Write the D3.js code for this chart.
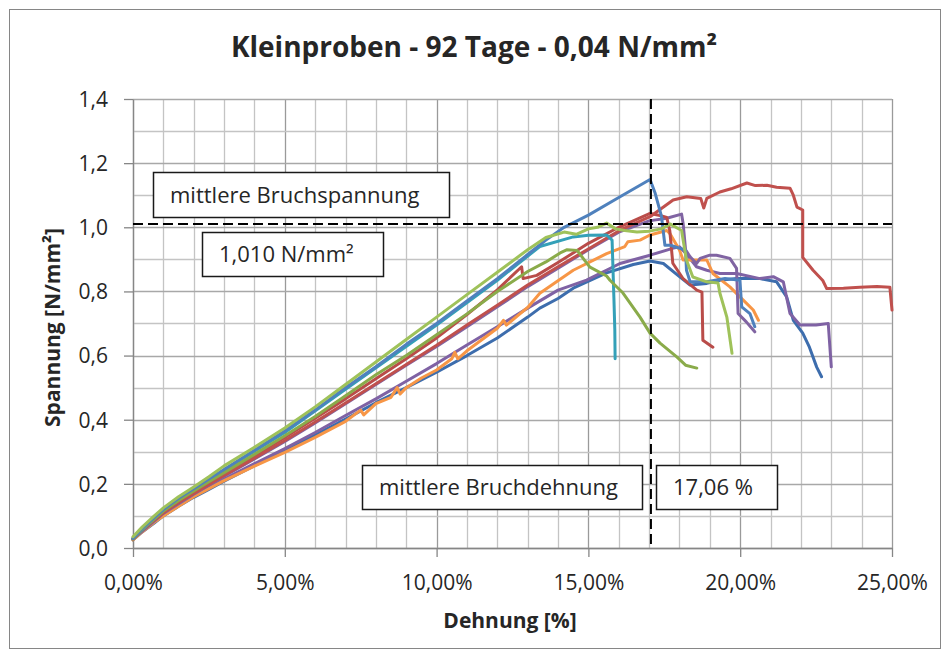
<!DOCTYPE html>
<html>
<head>
<meta charset="utf-8">
<script src="https://cdn.jsdelivr.net/npm/d3@7"></script>
<style>
	body { margin: 0; background: #fff; }
	text { font-family: "Open Sans", "Noto Sans", sans-serif; fill: #262626; }
	.axis path, .axis line { stroke: #868686; }
</style>
</head>
<body>
<div id="chart"></div>
<script>

////////////////////////////////////////////////////////////
///////////////////////// Data /////////////////////////////
////////////////////////////////////////////////////////////

//Each curve: [strain in %, stress in N/mm²]
var curveBlueB = [[0,0.025],[0.3,0.05],[0.7,0.078],[1,0.1],[1.5,0.13],[2,0.158],[2.5,0.183],[3,0.208],[4,0.257],[5,0.303],
	[6,0.352],[7,0.402],[8,0.453],[9,0.5],[10,0.548],[11,0.6],[12,0.655],[13,0.72],[13.4,0.748],[14,0.778],[14.5,0.81],
	[15.6,0.858],[16.48,0.884],[17.03,0.895],[17.47,0.887],[18.0,0.846],[18.35,0.82],[18.9,0.825],[19.33,0.835],[19.88,0.84],
	[20.65,0.84],[21.2,0.83],[21.53,0.783],[21.75,0.71],[22.06,0.67],[22.28,0.626],[22.52,0.564],[22.68,0.534]];

var curvePurpleB = [[0,0.027],[0.3,0.052],[0.7,0.083],[1,0.105],[2,0.163],[3,0.215],[4,0.263],[5,0.31],[6,0.36],[7,0.413],
	[8,0.465],[9,0.52],[10,0.575],[11,0.633],[12,0.69],[13,0.748],[14,0.804],[14.94,0.835],[16.04,0.887],[17.03,0.913],
	[17.8,0.935],[18.0,0.939],[18.2,0.92],[18.56,0.877],[18.9,0.866],[19.33,0.856],[19.88,0.856],[20.65,0.84],[21.09,0.846],
	[21.42,0.83],[21.64,0.731],[21.97,0.695],[22.5,0.695],[22.9,0.7],[23.0,0.565]];

var curveOrange = [[0,0.025],[0.3,0.05],[0.7,0.08],[1,0.1],[2,0.16],[3,0.21],[4,0.255],[5,0.298],[6,0.345],[7,0.395],
	[7.5,0.43],[7.6,0.415],[8,0.45],[8.5,0.47],[8.7,0.5],[8.8,0.48],[9,0.5],[9.5,0.53],[10,0.555],[10.5,0.59],[10.6,0.61],
	[10.7,0.59],[11,0.615],[12,0.685],[12.2,0.71],[12.3,0.695],[13,0.75],[13.4,0.794],[14.5,0.866],[15.6,0.918],[16.2,0.94],
	[16.3,0.955],[16.7,0.96],[17.03,0.976],[17.58,0.99],[17.68,0.981],[18.0,0.929],[18.12,0.898],[18.9,0.898],[19.1,0.856],
	[19.66,0.814],[20.1,0.773],[20.43,0.742],[20.6,0.71]];

var curvePurpleA = [[0,0.028],[1,0.108],[2,0.168],[3,0.224],[4,0.278],[5,0.332],[6,0.39],[7,0.45],[8,0.51],[9,0.57],
	[10,0.628],[11,0.69],[12,0.752],[13,0.815],[14,0.872],[15,0.93],[16,0.985],[17.0,1.02],[17.58,1.028],[18.07,1.041],
	[18.12,1.012],[18.2,0.93],[18.35,0.908],[18.56,0.887],[18.68,0.903],[19.0,0.913],[19.22,0.913],[19.66,0.903],
	[19.88,0.872],[19.93,0.731],[20.2,0.705],[20.48,0.674]];

var curveRedB = [[0,0.03],[0.3,0.057],[0.7,0.09],[1,0.112],[2,0.173],[3,0.23],[4,0.287],[5,0.345],[6,0.405],[7,0.465],
	[8,0.528],[9,0.59],[10,0.655],[11,0.728],[12,0.805],[12.8,0.877],[12.85,0.84],[13.3,0.85],[14,0.89],[15,0.95],[16,1.0],
	[17.03,1.043],[17.36,1.037],[17.58,1.031],[17.68,0.99],[17.78,0.888],[18.11,0.841],[18.57,0.804],[18.74,0.798],
	[18.77,0.648],[19.1,0.626]];

var curveRedA = [[0,0.028],[0.3,0.055],[0.7,0.087],[1,0.11],[1.5,0.142],[2,0.17],[2.5,0.198],[3,0.226],[4,0.28],[5,0.335],
	[6,0.393],[7,0.452],[8,0.512],[9,0.572],[10,0.632],[11,0.695],[12,0.757],[13,0.82],[14,0.877],[14.94,0.929],[16.04,0.991],
	[17.03,1.033],[17.79,1.085],[18.24,1.095],[18.7,1.09],[18.8,1.06],[18.9,1.09],[19.33,1.11],[19.7,1.12],[20.22,1.138],
	[20.5,1.13],[20.88,1.131],[21.2,1.125],[21.64,1.122],[21.75,1.1],[21.87,1.063],[22.06,1.054],[22.06,0.906],[22.4,0.866],
	[22.72,0.834],[22.85,0.809],[23.4,0.81],[23.94,0.813],[24.5,0.815],[24.93,0.813],[25.0,0.742]];

var curveTeal = [[0,0.03],[1,0.118],[2,0.183],[3,0.243],[5,0.36],[7,0.495],[10,0.695],[12,0.835],[13.4,0.94],[14.5,0.97],
	[15.0,0.975],[15.6,0.976],[15.78,0.96],[15.8,0.9],[15.84,0.78],[15.87,0.68],[15.88,0.59]];

var curveGreenB = [[0,0.028],[0.3,0.058],[0.7,0.09],[1,0.115],[1.5,0.148],[2,0.178],[2.5,0.207],[3,0.235],[4,0.292],[5,0.35],
	[6,0.41],[7,0.475],[8,0.54],[9,0.6],[10,0.665],[11,0.73],[12,0.8],[13,0.862],[13.6,0.892],[14.07,0.92],[14.3,0.93],
	[14.63,0.928],[14.82,0.904],[15.05,0.876],[15.6,0.848],[15.71,0.835],[16.14,0.795],[16.7,0.72],[17.03,0.67],
	[17.36,0.639],[17.92,0.595],[18.2,0.57],[18.57,0.561]];

var curveBlueA = [[0,0.03],[0.3,0.06],[0.7,0.095],[1,0.12],[1.5,0.155],[2,0.185],[2.5,0.215],[3,0.245],[4,0.305],[5,0.365],
	[6,0.43],[7,0.5],[8,0.565],[9,0.635],[10,0.7],[11,0.77],[12,0.84],[13,0.915],[13.6,0.96],[14.2,1.0],[15,1.038],
	[16,1.093],[16.5,1.12],[17.03,1.149],[17.2,1.106],[17.41,1.033],[17.52,0.944],[17.7,0.944],[18.2,0.929],[18.23,0.866],
	[18.35,0.83],[18.9,0.83],[19.5,0.84],[19.99,0.835],[20.05,0.752],[20.32,0.731],[20.48,0.69]];

var curveGreenA = [[0,0.035],[0.3,0.065],[0.7,0.1],[1,0.125],[1.5,0.16],[2,0.19],[2.5,0.222],[3,0.256],[4,0.314],[5,0.374],
	[6,0.44],[7,0.51],[8,0.58],[9,0.65],[10,0.72],[11,0.79],[12,0.86],[13,0.93],[13.6,0.968],[14.2,0.985],[14.6,0.978],
	[15.0,0.995],[15.3,1.0],[15.6,1.013],[15.9,0.995],[16.2,0.99],[16.6,0.985],[17.0,0.988],[17.4,0.995],[17.7,1.01],
	[18.07,0.99],[18.12,0.96],[18.23,0.898],[18.44,0.845],[18.9,0.83],[19.27,0.826],[19.33,0.795],[19.56,0.72],[19.73,0.607]];

var curves = [curveBlueB, curvePurpleB, curveOrange, curvePurpleA, curveRedB, curveRedA, curveTeal, curveGreenB, curveBlueA, curveGreenA];
var curveColors = ["#3d6dad", "#7f62a4", "#f79646", "#8064a2", "#b94c49", "#c0504d", "#34a0b8", "#8aab4a", "#4f81bd", "#9fc25a"];

//Axis ticks and labels
var xTicks = [0, 5, 10, 15, 20, 25];
var xTickLabels = ["0,00%", "5,00%", "10,00%", "15,00%", "20,00%", "25,00%"];
var yTicks = [0, 0.2, 0.4, 0.6, 0.8, 1.0, 1.2, 1.4];
var yTickLabels = ["0,0", "0,2", "0,4", "0,6", "0,8", "1,0", "1,2", "1,4"];

//Mean values at failure
var meanStress = 1.010;
var meanStrain = 17.06;
var meanStressLabel = "1,010 N/mm²";
var meanStrainLabel = "17,06 %";

////////////////////////////////////////////////////////////
////////////////////// Set up chart ////////////////////////
////////////////////////////////////////////////////////////

var totalWidth = 944,
	totalHeight = 657;

var margin = {top: 99, right: 52, bottom: 109, left: 133},
	width = totalWidth - margin.left - margin.right,
	height = totalHeight - margin.top - margin.bottom;

var svg = d3.select("#chart").append("svg")
	.attr("width", totalWidth)
	.attr("height", totalHeight);

//Chart border
svg.append("rect")
	.attr("x", 9.5)
	.attr("y", 9.5)
	.attr("width", 931)
	.attr("height", 639)
	.style("fill", "none")
	.style("stroke", "#868686");

var g = svg.append("g")
	.attr("transform", "translate(" + margin.left + "," + margin.top + ")");

var x = d3.scaleLinear().domain([0, 25]).range([0, width]);
var y = d3.scaleLinear().domain([0, 1.4]).range([height, 0]);

////////////////////////////////////////////////////////////
/////////////////////// Gridlines //////////////////////////
////////////////////////////////////////////////////////////

var minorX = d3.range(0, 25.5, 1),
	minorY = d3.range(0, 1.45, 0.1);

g.selectAll(".grid-x")
	.data(minorX)
	.enter().append("line")
	.attr("class", "grid-x")
	.attr("x1", function(d) { return Math.round(x(d)) + 0.5; })
	.attr("x2", function(d) { return Math.round(x(d)) + 0.5; })
	.attr("y1", 0)
	.attr("y2", height)
	.style("stroke", function(d) { return d % 5 === 0 ? "#9a9a9a" : "#c4c4c4"; })
	.style("stroke-width", 1.3);

g.selectAll(".grid-y")
	.data(minorY)
	.enter().append("line")
	.attr("class", "grid-y")
	.attr("x1", 0)
	.attr("x2", width)
	.attr("y1", function(d) { return Math.round(y(d)) + 0.5; })
	.attr("y2", function(d) { return Math.round(y(d)) + 0.5; })
	.style("stroke", function(d, i) { return i % 2 === 0 ? "#a8a8a8" : "#c4c4c4"; })
	.style("stroke-width", 1.3);

////////////////////////////////////////////////////////////
///////////////////////// Axes /////////////////////////////
////////////////////////////////////////////////////////////

var xAxis = g.append("g")
	.attr("class", "axis")
	.attr("transform", "translate(0," + height + ")")
	.call(d3.axisBottom(x).tickValues(xTicks).tickSize(9).tickSizeOuter(0)
		.tickFormat(function(d, i) { return xTickLabels[i]; }));

xAxis.selectAll("text")
	.attr("y", 42)
	.attr("dy", 0)
	.style("font-size", "21px")
	.style("fill", "#262626");

var yAxis = g.append("g")
	.attr("class", "axis")
	.call(d3.axisLeft(y).tickValues(yTicks).tickSize(9).tickSizeOuter(0)
		.tickFormat(function(d, i) { return yTickLabels[i]; }));

yAxis.selectAll("text")
	.attr("x", -25)
	.attr("dy", "0.35em")
	.style("font-size", "21px")
	.style("fill", "#262626");

g.selectAll(".axis path, .axis line").style("stroke-width", 1.3);

////////////////////////////////////////////////////////////
//////////////////////// Curves ////////////////////////////
////////////////////////////////////////////////////////////

var line = d3.line()
	.x(function(d) { return x(d[0]); })
	.y(function(d) { return y(d[1]); });

g.selectAll(".curve")
	.data(curves)
	.enter().append("path")
	.attr("class", "curve")
	.attr("d", line)
	.style("fill", "none")
	.style("stroke", function(d, i) { return curveColors[i]; })
	.style("stroke-width", 3)
	.style("stroke-linejoin", "round")
	.style("stroke-linecap", "round");

////////////////////////////////////////////////////////////
///////////////////// Mean value lines /////////////////////
////////////////////////////////////////////////////////////

g.append("line")
	.attr("x1", x(0))
	.attr("x2", x(25))
	.attr("y1", y(meanStress))
	.attr("y2", y(meanStress))
	.style("stroke", "#000")
	.style("stroke-width", 2)
	.style("stroke-dasharray", "10,5");

g.append("line")
	.attr("x1", x(meanStrain))
	.attr("x2", x(meanStrain))
	.attr("y1", y(1.4))
	.attr("y2", y(0))
	.style("stroke", "#000")
	.style("stroke-width", 2)
	.style("stroke-dasharray", "10,5");

////////////////////////////////////////////////////////////
//////////////////// Annotation boxes //////////////////////
////////////////////////////////////////////////////////////

var boxes = [
	{text: "mittlere Bruchspannung", x: 153, y: 172, w: 296, h: 45},
	{text: meanStressLabel, x: 202, y: 232, w: 181, h: 44},
	{text: "mittlere Bruchdehnung", x: 362, y: 465, w: 280, h: 44},
	{text: meanStrainLabel, x: 656, y: 465, w: 121, h: 44}
];

var box = svg.selectAll(".note")
	.data(boxes)
	.enter().append("g")
	.attr("class", "note")
	.attr("transform", function(d) { return "translate(" + d.x + "," + d.y + ")"; });

box.append("rect")
	.attr("x", 0.5)
	.attr("y", 0.5)
	.attr("width", function(d) { return d.w; })
	.attr("height", function(d) { return d.h; })
	.style("fill", "#fff")
	.style("stroke", "#1a1a1a")
	.style("stroke-width", 1.5);

box.append("text")
	.attr("x", 17)
	.attr("y", function(d) { return d.h/2 + 8; })
	.style("font-size", "22px")
	.text(function(d) { return d.text; });

////////////////////////////////////////////////////////////
///////////////////////// Titles ///////////////////////////
////////////////////////////////////////////////////////////

svg.append("text")
	.attr("x", 474)
	.attr("y", 57)
	.attr("text-anchor", "middle")
	.style("font-size", "28px")
	.style("font-weight", "bold")
	.text("Kleinproben - 92 Tage - 0,04 N/mm²");

svg.append("text")
	.attr("x", 510)
	.attr("y", 628)
	.attr("text-anchor", "middle")
	.style("font-size", "21px")
	.style("font-weight", "bold")
	.text("Dehnung [%]");

svg.append("text")
	.attr("transform", "translate(60," + (margin.top + height/2 + 4) + ") rotate(-90)")
	.attr("text-anchor", "middle")
	.style("font-size", "21px")
	.style("font-weight", "bold")
	.text("Spannung [N/mm²]");

</script>
</body>
</html>
